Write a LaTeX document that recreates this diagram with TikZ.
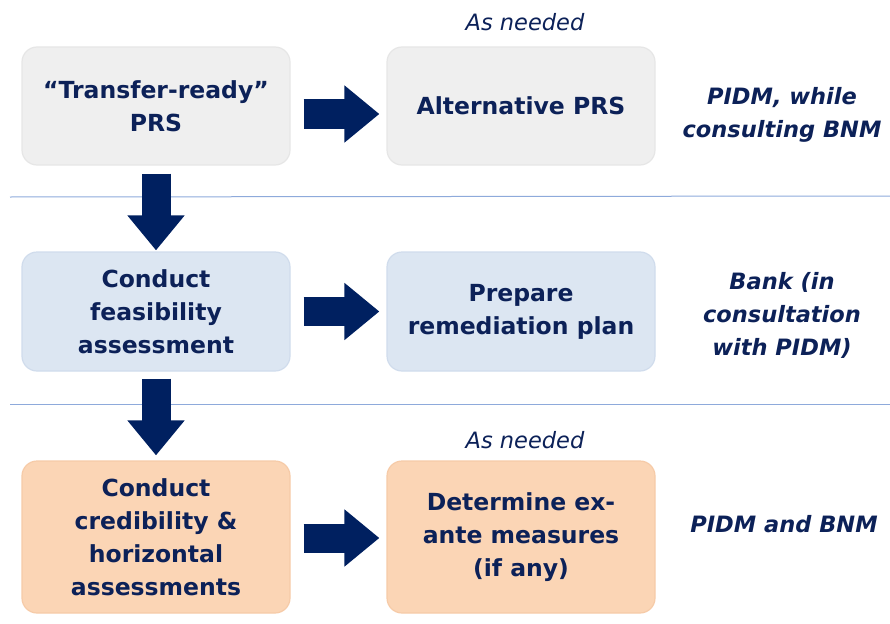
\documentclass[tikz,border=0pt]{standalone}
\usepackage{fontspec}
\setmainfont{DejaVu Sans}
\usetikzlibrary{arrows.meta}
\definecolor{navy}{HTML}{002060}
\definecolor{txt}{HTML}{0C2158}
\definecolor{grayfill}{HTML}{EFEFEF}
\definecolor{graydraw}{HTML}{E6E6E6}
\definecolor{bluefill}{HTML}{DCE6F2}
\definecolor{bluedraw}{HTML}{D0DCEC}
\definecolor{peachfill}{HTML}{FBD5B5}
\definecolor{peachdraw}{HTML}{F6CBA8}
\definecolor{sepline}{HTML}{8EAADB}
\tikzset{
  box/.style={rounded corners=15pt, line width=1.2pt, minimum width=268pt, align=center,
    text=txt, font=\fontsize{23.5}{33}\selectfont\bfseries, inner sep=0pt},
  graybox/.style={box, fill=grayfill, draw=graydraw, minimum height=118pt},
  bluebox/.style={box, fill=bluefill, draw=bluedraw, minimum height=119pt},
  peachbox/.style={box, fill=peachfill, draw=peachdraw, minimum height=152pt},
  who/.style={text=txt, font=\fontsize{22.5}{33}\selectfont\bfseries\itshape, align=center, inner sep=0pt},
  asneeded/.style={text=txt, font=\fontsize{22.5}{27}\selectfont\itshape, inner sep=0pt},
  blockarrow/.style={draw=navy, line width=29pt, -{Triangle[length=35pt 0 0, width=55pt 0 0, fill=navy]}},
  sep/.style={draw=sepline, line width=1pt}
}
\begin{document}
\begin{tikzpicture}[x=1pt,y=-1pt]
\useasboundingbox (0,0) rectangle (890,623);
% separators
\coordinate (s1l) at (10,197); \coordinate (s1r) at (890,196);
\coordinate (s2l) at (10,404); \coordinate (s2r) at (890,404);
\draw[sep] (s1l) -- (s1r);
\draw[sep] (s2l) -- (s2r);
% boxes
\node[graybox] (a1) at (156,106) {“Transfer-ready”\\PRS};
\node[graybox] (b1) at (521,106) {Alternative PRS};
\node[bluebox] (a2) at (156,311.5) {Conduct\\feasibility\\assessment};
\node[bluebox] (b2) at (521,311.5) {Prepare\\remediation plan};
\node[peachbox] (a3) at (156,537) {Conduct\\credibility \&\\horizontal\\assessments};
\node[peachbox] (b3) at (521,537) {Determine ex-\\ante measures\\(if any)};
% labels
\node[asneeded] (n1) at (525,22) {As needed};
\node[asneeded] (n2) at (525,440) {As needed};
\node[who] (w1) at (782,115) {PIDM, while\\consulting BNM};
\node[who] (w2) at (782,315) {Bank (in\\consultation\\with PIDM)};
\node[who] (w3) at (784,524) {PIDM and BNM};
% arrows
\draw[blockarrow] ([xshift=13pt,yshift=-8pt]a1.east) -- ([xshift=-7pt,yshift=-8pt]b1.west);
\draw[blockarrow] ([xshift=13pt]a2.east) -- ([xshift=-7pt]b2.west);
\draw[blockarrow] ([xshift=13pt,yshift=-1pt]a3.east) -- ([xshift=-7pt,yshift=-1pt]b3.west);
\draw[blockarrow] ([yshift=-8pt]a1.south) -- ([yshift=1pt]a2.north);
\draw[blockarrow] ([yshift=-7pt]a2.south) -- ([yshift=5pt]a3.north);
\end{tikzpicture}
\end{document}
